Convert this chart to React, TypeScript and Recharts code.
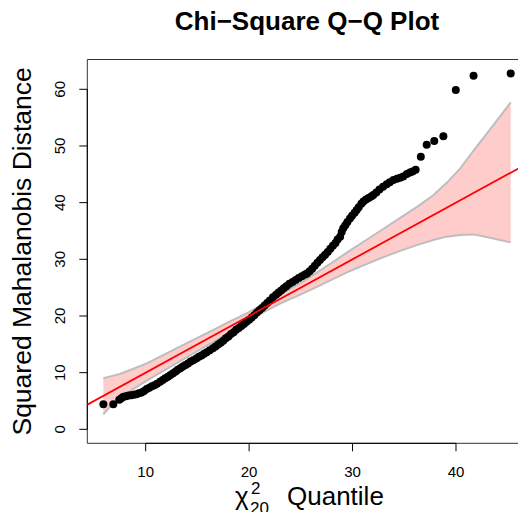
import {
  Area,
  ComposedChart,
  Line,
  ReferenceArea,
  ReferenceLine,
  Scatter,
  XAxis,
  YAxis,
} from "recharts"

const FONT = "'Liberation Sans', Arial, Helvetica, sans-serif"

// chi-square quantiles (x) against squared distances (y)
const qqX = [
  5.91, 6.87,
  7.45, 7.65, 7.85, 8.1, 8.35, 8.6, 8.85, 9.1, 9.35, 9.6, 9.85, 10.1,
  10.35, 10.6, 10.85, 11.1, 11.4, 11.65, 11.9, 12.15, 12.4, 12.65, 12.9, 13.1, 13.35,
  13.6, 13.85, 14.1, 14.35, 14.6, 14.9, 15.15, 15.4, 15.65, 15.9, 16.2, 16.5,
  16.75, 17.0, 17.25, 17.5, 17.75, 18.0, 18.25, 18.5, 18.75, 19.0, 19.25, 19.5, 19.75,
  20.0, 20.25, 20.5, 20.75, 21.0, 21.25, 21.5, 21.75, 22.0, 22.3,
  22.6, 22.85, 23.1, 23.35, 23.6, 23.9, 24.2, 24.5, 24.8, 25.1, 25.4, 25.6,
  25.85, 26.1, 26.35, 26.6, 26.85, 27.1, 27.35, 27.6, 27.85, 28.1,
  28.35, 28.55, 28.8, 28.95, 29.1, 29.3, 29.5, 29.75, 29.95, 30.2, 30.4, 30.6, 30.85, 31.05,
  31.3, 31.55, 31.8, 32.0, 32.3, 32.6, 32.95, 33.3, 33.6, 33.95, 34.3, 34.6, 34.9, 35.25, 35.55, 35.8, 36.1,
  36.6, 37.17, 37.9, 38.78, 39.98, 41.7, 45.29,
]
const qqY = [
  4.41, 4.41,
  5.2, 5.5, 5.75, 5.85, 5.95, 6.0, 6.1, 6.2, 6.35, 6.5, 6.75, 7.1,
  7.35, 7.6, 7.8, 8.05, 8.4, 8.7, 9.0, 9.3, 9.6, 9.9, 10.2, 10.5, 10.8,
  11.1, 11.35, 11.6, 11.95, 12.2, 12.5, 12.8, 13.05, 13.35, 13.6, 13.95, 14.3,
  14.6, 14.95, 15.3, 15.65, 16.05, 16.4, 16.8, 17.15, 17.55, 17.9, 18.25, 18.6, 19.0,
  19.35, 19.75, 20.15, 20.6, 21.0, 21.4, 21.85, 22.3, 22.75, 23.3,
  23.75, 24.15, 24.5, 24.9, 25.25, 25.7, 26.0, 26.35, 26.7, 27.0, 27.3, 27.5,
  27.9, 28.35, 28.85, 29.4, 29.9, 30.35, 30.8, 31.3, 31.85, 32.4,
  32.9, 33.5, 34.0, 34.8, 35.5, 36.0, 36.6, 37.2, 37.7, 38.2, 38.7, 39.2, 39.8, 40.2,
  40.55, 40.8, 41.1, 41.35, 41.8, 42.3, 42.8, 43.25, 43.6, 44.0, 44.2, 44.4, 44.6, 45.05, 45.3, 45.5, 45.8,
  48.1, 50.2, 50.9, 51.7, 59.9, 62.4, 62.8,
]

// confidence envelope
const bandX = [
  5.91, 6.5, 7.5, 8.7, 10.1, 11.7, 13.3, 14.9, 16.5, 18.1, 19.8, 21.4, 23.0, 25.0,
  26.5, 28.0, 29.7, 31.4, 33.0, 34.6, 36.2, 37.8, 39.1, 40.4, 41.7, 43.5, 45.29,
]
const bandHi = [
  9.0, 9.3, 9.76, 10.6, 11.65, 13.1, 14.6, 16.05, 17.5, 19.0, 20.5, 22.1, 23.75, 25.85,
  27.6, 29.4, 31.5, 33.5, 35.4, 37.3, 39.2, 41.3, 43.5, 46.0, 49.2, 53.4, 57.7,
]
const bandLo = [
  2.65, 3.9, 5.4, 7.0, 8.6, 10.3, 12.0, 13.7, 15.4, 17.1, 19.0, 20.7, 22.2, 23.8,
  25.1, 26.4, 27.9, 29.2, 30.4, 31.5, 32.5, 33.4, 34.0, 34.3, 34.4, 33.7, 33.0,
]

// reference line y = a + b x
const lineIntercept = 0
const lineSlope = 1

const xTicks = [10, 20, 30, 40]
const yTicks = [0, 10, 20, 30, 40, 50, 60]

const xDomain: [number, number] = [4.357, 46.894]
const yDomain: [number, number] = [-2.465, 65.26]

const bandData = bandX.map((x, i) => ({ x, band: [bandLo[i], bandHi[i]] }))
const pointData = qqX.map((x, i) => ({ x, y: qqY[i] }))
const lineData = xDomain.map((x) => ({ x, y: lineIntercept + lineSlope * x }))

const YTick = (props: any) => {
  const { y, payload } = props
  return (
    <text
      x={65}
      y={y}
      transform={`rotate(-90, 65, ${y})`}
      textAnchor="middle"
      fontSize={15}
      fill="#000"
      fontFamily={FONT}
    >
      {payload.value}
    </text>
  )
}

const Dot = (props: any) => <circle cx={props.cx} cy={props.cy} r={4} fill="#000" />

export default function App() {
  return (
    <div style={{ position: "relative", margin: -8, width: 526, height: 520, overflow: "hidden" }}>
      <ComposedChart
        width={538}
        height={520}
        data={bandData}
        margin={{ top: 59.5, right: 10.7, bottom: 0, left: 8 }}
      >
        <XAxis
          type="number"
          dataKey="x"
          domain={xDomain}
          allowDataOverflow
          ticks={xTicks}
          height={76.7}
          axisLine={false}
          tickSize={8}
          tickMargin={15}
          tickLine={{ stroke: "#000" }}
          tick={{ fontSize: 15, fill: "#000", fontFamily: FONT }}
        />
        <YAxis
          type="number"
          dataKey="y"
          domain={yDomain}
          allowDataOverflow
          ticks={yTicks}
          width={79.3}
          axisLine={false}
          tickSize={8}
          tickLine={{ stroke: "#000" }}
          tick={YTick}
        />
        <Area
          type="linear"
          dataKey="band"
          stroke="#BEBEBE"
          strokeWidth={2}
          fill="#FFCCCC"
          fillOpacity={1}
          isAnimationActive={false}
          dot={false}
          activeDot={false}
        />
        <Scatter data={pointData} shape={Dot} isAnimationActive={false} />
        <Line
          data={lineData}
          dataKey="y"
          type="linear"
          stroke="#FF0000"
          strokeWidth={1.8}
          dot={false}
          activeDot={false}
          isAnimationActive={false}
          zIndex={700}
        />
        <ReferenceArea
          x1={xDomain[0]}
          x2={xDomain[1]}
          y1={yDomain[0]}
          y2={yDomain[1]}
          fill="none"
          stroke="#333"
          strokeWidth={1}
          ifOverflow="visible"
        />
        <ReferenceLine
          segment={[
            { x: xTicks[0], y: yDomain[0] },
            { x: xTicks[xTicks.length - 1], y: yDomain[0] },
          ]}
          stroke="#000"
          ifOverflow="visible"
        />
        <ReferenceLine
          segment={[
            { x: xDomain[0], y: yTicks[0] },
            { x: xDomain[0], y: yTicks[yTicks.length - 1] },
          ]}
          stroke="#000"
          ifOverflow="visible"
        />
      </ComposedChart>
      <svg
        width={526}
        height={520}
        style={{ position: "absolute", left: 0, top: 0, pointerEvents: "none" }}
        fontFamily={FONT}
      >
        <text x={307} y={30} textAnchor="middle" fontSize={26} fontWeight="bold">
          Chi−Square Q−Q Plot
        </text>
        <text
          x={31}
          y={251.4}
          transform="rotate(-90, 31, 251.4)"
          textAnchor="middle"
          fontSize={26.5}
        >
          Squared Mahalanobis Distance
        </text>
        <text x={235} y={505} fontSize={26}>χ</text>
        <text x={251} y={494} fontSize={17}>2</text>
        <text x={250} y={514} fontSize={17}>20</text>
        <text x={287} y={505} fontSize={26}>Quantile</text>
      </svg>
    </div>
  )
}
